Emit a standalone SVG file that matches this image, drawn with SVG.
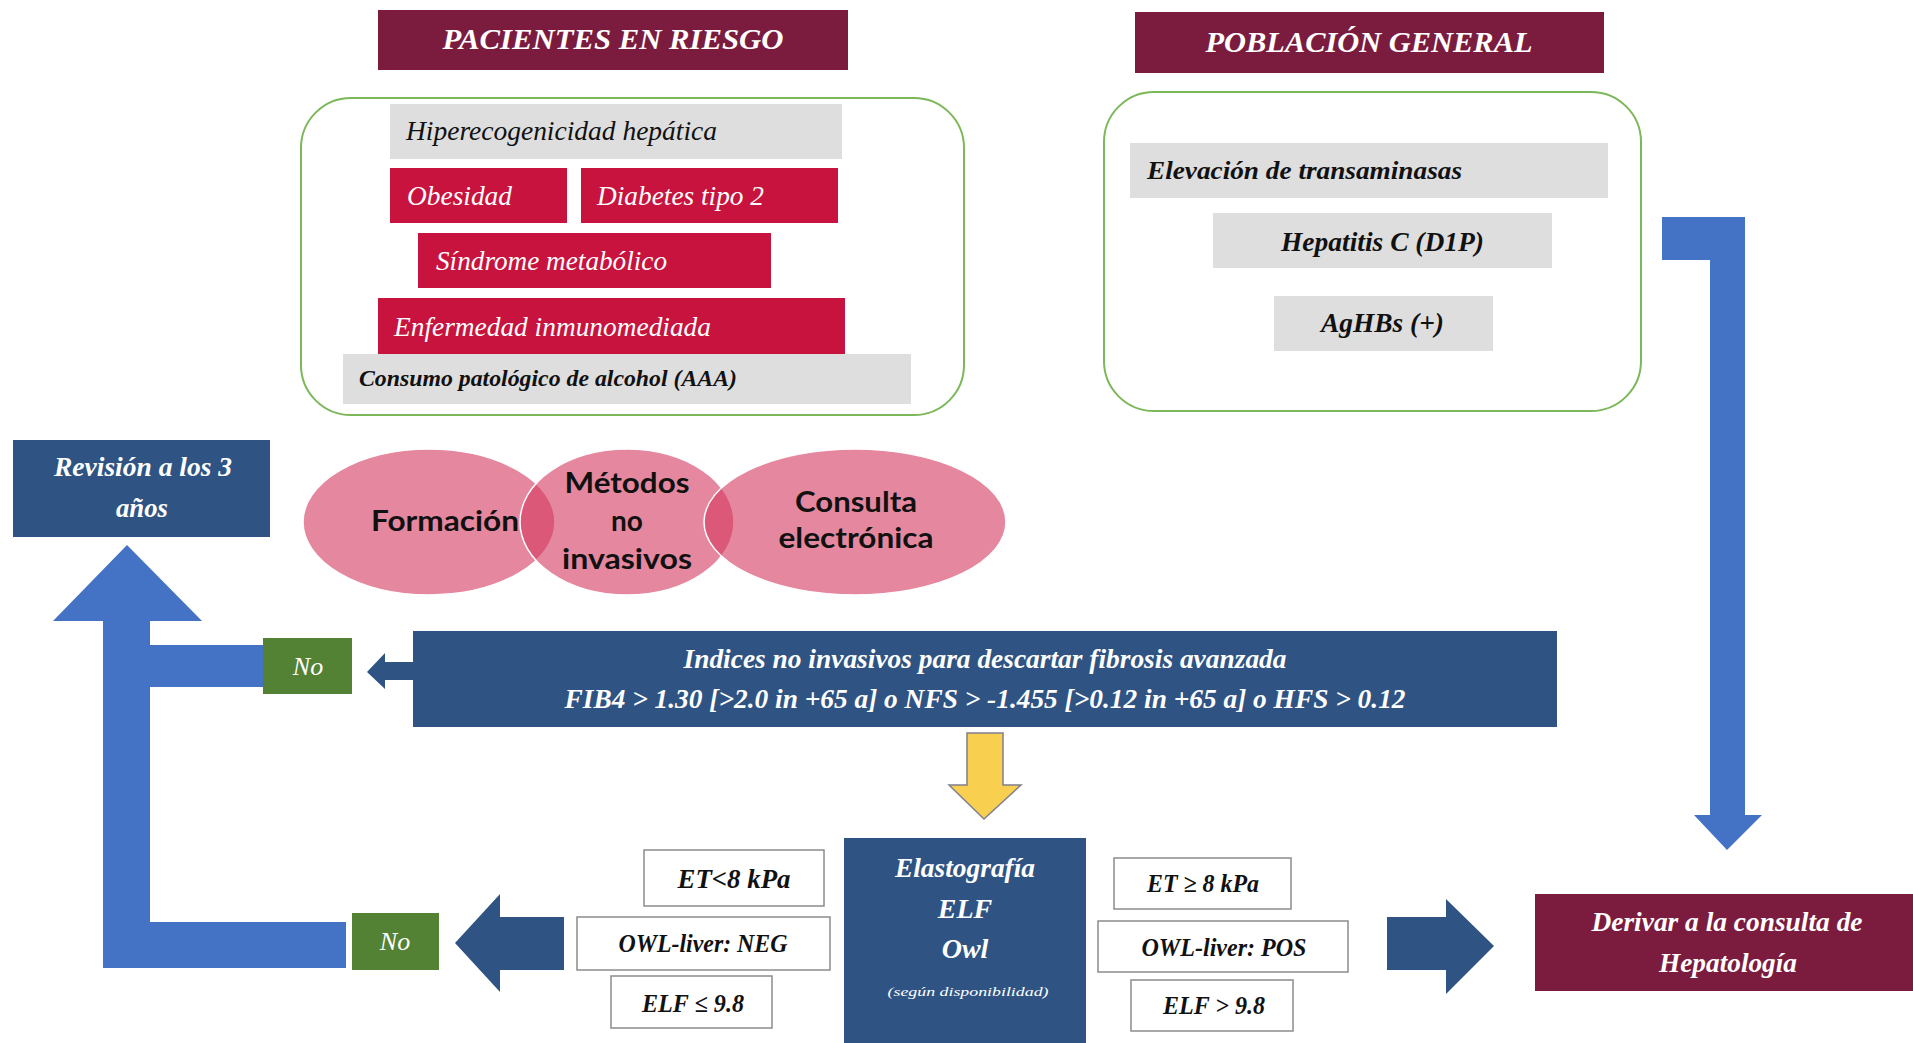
<svg xmlns="http://www.w3.org/2000/svg" width="1913" height="1043" viewBox="0 0 1913 1043">
<style>
.t{font-family:"Liberation Serif","Times New Roman",serif;font-style:italic}
.b{font-weight:bold}
.w{fill:#ffffff}
.k{fill:#111111}
.c{text-anchor:middle}
.hdr{fill:#7b1c3f}
.red{fill:#c8133e}
.gray{fill:#dedede}
.dblue{fill:#2f5483}
.grn{fill:#548235}
.frame{fill:#ffffff;stroke:#7cb85a;stroke-width:2}
.crit{fill:#ffffff;stroke:#8c8c8c;stroke-width:1.5}
.circ{fill:#d3385f;fill-opacity:0.6;stroke:#ffffff;stroke-width:1.5}
.ct{font-family:Lato,"Open Sans",sans-serif;font-weight:bold;fill:#111111;text-anchor:middle}
</style>
<rect width="1913" height="1043" fill="#ffffff"/>

<g id="connectors">
  <path d="M1662,217 L1745,217 L1745,815 L1762,815 L1727,850 L1694,815 L1710,815 L1710,260 L1662,260 Z" fill="#4472c4"/>
  <path d="M127,545 L202,621 L150,621 L150,645 L263,645 L263,687 L150,687 L150,922 L346,922 L346,968 L103,968 L103,621 L53,621 Z" fill="#4472c4"/>
  <path d="M367,672 L385,653 L385,662 L413,662 L413,680 L385,680 L385,689 Z" fill="#2f5483"/>
  <path d="M967,733 L1003,733 L1003,785 L1021,785 L984,819 L949,785 L967,785 Z" fill="#f9cf50" stroke="#7f7f8f" stroke-width="1.5"/>
  <path d="M455,943 L500,894 L500,917 L564,917 L564,970 L500,970 L500,992 Z" fill="#2f5483"/>
  <path d="M1387,917 L1446,917 L1446,899 L1494,946 L1446,994 L1446,970 L1387,970 Z" fill="#2f5483"/>
</g>

<g id="hdr-pacientes">
  <rect class="hdr" x="378" y="10" width="470" height="60"/>
  <text class="t b w c" x="613" y="49" font-size="30" textLength="341" lengthAdjust="spacingAndGlyphs">PACIENTES EN RIESGO</text>
</g>
<g id="hdr-poblacion">
  <rect class="hdr" x="1135" y="12" width="469" height="61"/>
  <text class="t b w c" x="1369" y="52" font-size="30" textLength="327" lengthAdjust="spacingAndGlyphs">POBLACIÓN GENERAL</text>
</g>

<g id="box-riesgo">
  <rect class="frame" x="301" y="98" width="663" height="317" rx="50" ry="50"/>
</g>
<g id="hiperecogenicidad">
  <rect class="gray" x="390" y="104" width="452" height="55"/>
  <text class="t k" x="406" y="140" font-size="28" textLength="311" lengthAdjust="spacingAndGlyphs">Hiperecogenicidad hepática</text>
</g>
<g id="obesidad">
  <rect class="red" x="390" y="168" width="177" height="55"/>
  <text class="t w" x="407" y="205" font-size="28" textLength="105" lengthAdjust="spacingAndGlyphs">Obesidad</text>
</g>
<g id="diabetes">
  <rect class="red" x="581" y="168" width="257" height="55"/>
  <text class="t w" x="597" y="205" font-size="28" textLength="167" lengthAdjust="spacingAndGlyphs">Diabetes tipo 2</text>
</g>
<g id="sindrome">
  <rect class="red" x="418" y="233" width="353" height="55"/>
  <text class="t w" x="436" y="270" font-size="28" textLength="231" lengthAdjust="spacingAndGlyphs">Síndrome metabólico</text>
</g>
<g id="enfermedad">
  <rect class="red" x="378" y="298" width="467" height="56"/>
  <text class="t w" x="394" y="336" font-size="28" textLength="317" lengthAdjust="spacingAndGlyphs">Enfermedad inmunomediada</text>
</g>
<g id="consumo">
  <rect class="gray" x="343" y="354" width="568" height="50"/>
  <text class="t b k" x="359" y="386" font-size="23" textLength="378" lengthAdjust="spacingAndGlyphs">Consumo patológico de alcohol (AAA)</text>
</g>

<g id="box-poblacion">
  <rect class="frame" x="1104" y="92" width="537" height="319" rx="50" ry="50"/>
</g>
<g id="transaminasas">
  <rect class="gray" x="1130" y="143" width="478" height="55"/>
  <text class="t b k" x="1147" y="179" font-size="26" textLength="315" lengthAdjust="spacingAndGlyphs">Elevación de transaminasas</text>
</g>
<g id="hepatitis-c">
  <rect class="gray" x="1213" y="213" width="339" height="55"/>
  <text class="t b k" x="1281" y="251" font-size="28" textLength="203" lengthAdjust="spacingAndGlyphs">Hepatitis C (D1P)</text>
</g>
<g id="aghbs">
  <rect class="gray" x="1274" y="296" width="219" height="55"/>
  <text class="t b k" x="1321" y="332" font-size="28" textLength="123" lengthAdjust="spacingAndGlyphs">AgHBs (+)</text>
</g>

<g id="revision">
  <rect class="dblue" x="13" y="440" width="257" height="97"/>
  <text class="t b w c" x="143" y="476" font-size="27" textLength="178" lengthAdjust="spacingAndGlyphs">Revisión a los 3</text>
  <text class="t b w c" x="142" y="517" font-size="27" textLength="52" lengthAdjust="spacingAndGlyphs">años</text>
</g>

<g id="circulos">
  <ellipse class="circ" cx="429" cy="522" rx="126" ry="73"/>
  <ellipse class="circ" cx="627" cy="522" rx="107" ry="73"/>
  <ellipse class="circ" cx="855" cy="522" rx="151" ry="73"/>
  <text class="ct" x="445" y="531" font-size="28" textLength="148" lengthAdjust="spacingAndGlyphs">Formación</text>
  <text class="ct" x="627" y="493" font-size="28" textLength="125" lengthAdjust="spacingAndGlyphs">Métodos</text>
  <text class="ct" x="627" y="531" font-size="28">no</text>
  <text class="ct" x="627" y="569" font-size="28" textLength="130" lengthAdjust="spacingAndGlyphs">invasivos</text>
  <text class="ct" x="856" y="512" font-size="28" textLength="122" lengthAdjust="spacingAndGlyphs">Consulta</text>
  <text class="ct" x="856" y="548" font-size="28" textLength="155" lengthAdjust="spacingAndGlyphs">electrónica</text>
</g>

<g id="no-top">
  <rect class="grn" x="263" y="638" width="89" height="56"/>
  <text class="t w c" x="308" y="675" font-size="26">No</text>
</g>

<g id="indices">
  <rect class="dblue" x="413" y="631" width="1144" height="96"/>
  <text class="t b w c" x="985" y="668" font-size="27" textLength="603" lengthAdjust="spacingAndGlyphs">Indices no invasivos para descartar fibrosis avanzada</text>
  <text class="t b w c" x="985" y="708" font-size="27" textLength="841" lengthAdjust="spacingAndGlyphs">FIB4 &gt; 1.30 [&gt;2.0 in +65 a] o NFS &gt; -1.455 [&gt;0.12 in +65 a] o HFS &gt; 0.12</text>
</g>

<g id="elastografia">
  <rect class="dblue" x="844" y="838" width="242" height="210"/>
  <text class="t b w c" x="965" y="877" font-size="28" textLength="140" lengthAdjust="spacingAndGlyphs">Elastografía</text>
  <text class="t b w c" x="965" y="918" font-size="28">ELF</text>
  <text class="t b w c" x="965" y="958" font-size="28">Owl</text>
  <text class="t w c" x="968" y="996" font-size="13" textLength="161" lengthAdjust="spacingAndGlyphs">(según disponibilidad)</text>
</g>

<g id="et-neg">
  <rect class="crit" x="644" y="850" width="180" height="56"/>
  <text class="t b k c" x="734" y="888" font-size="27" textLength="113" lengthAdjust="spacingAndGlyphs">ET&lt;8 kPa</text>
</g>
<g id="owl-neg">
  <rect class="crit" x="577" y="917" width="253" height="53"/>
  <text class="t b k c" x="703" y="952" font-size="25" textLength="169" lengthAdjust="spacingAndGlyphs">OWL-liver: NEG</text>
</g>
<g id="elf-neg">
  <rect class="crit" x="611" y="976" width="161" height="52"/>
  <text class="t b k c" x="693" y="1012" font-size="25" textLength="102" lengthAdjust="spacingAndGlyphs">ELF ≤ 9.8</text>
</g>

<g id="et-pos">
  <rect class="crit" x="1114" y="858" width="177" height="51"/>
  <text class="t b k c" x="1203" y="892" font-size="25" textLength="112" lengthAdjust="spacingAndGlyphs">ET ≥ 8 kPa</text>
</g>
<g id="owl-pos">
  <rect class="crit" x="1098" y="921" width="250" height="51"/>
  <text class="t b k c" x="1224" y="956" font-size="25" textLength="165" lengthAdjust="spacingAndGlyphs">OWL-liver: POS</text>
</g>
<g id="elf-pos">
  <rect class="crit" x="1131" y="980" width="162" height="51"/>
  <text class="t b k c" x="1214" y="1014" font-size="25" textLength="102" lengthAdjust="spacingAndGlyphs">ELF &gt; 9.8</text>
</g>

<g id="no-bottom">
  <rect class="grn" x="352" y="913" width="87" height="57"/>
  <text class="t w c" x="395" y="950" font-size="26">No</text>
</g>

<g id="derivar">
  <rect class="hdr" x="1535" y="894" width="378" height="97"/>
  <text class="t b w c" x="1727" y="931" font-size="27" textLength="271" lengthAdjust="spacingAndGlyphs">Derivar a la consulta de</text>
  <text class="t b w c" x="1728" y="972" font-size="27" textLength="138" lengthAdjust="spacingAndGlyphs">Hepatología</text>
</g>
</svg>
